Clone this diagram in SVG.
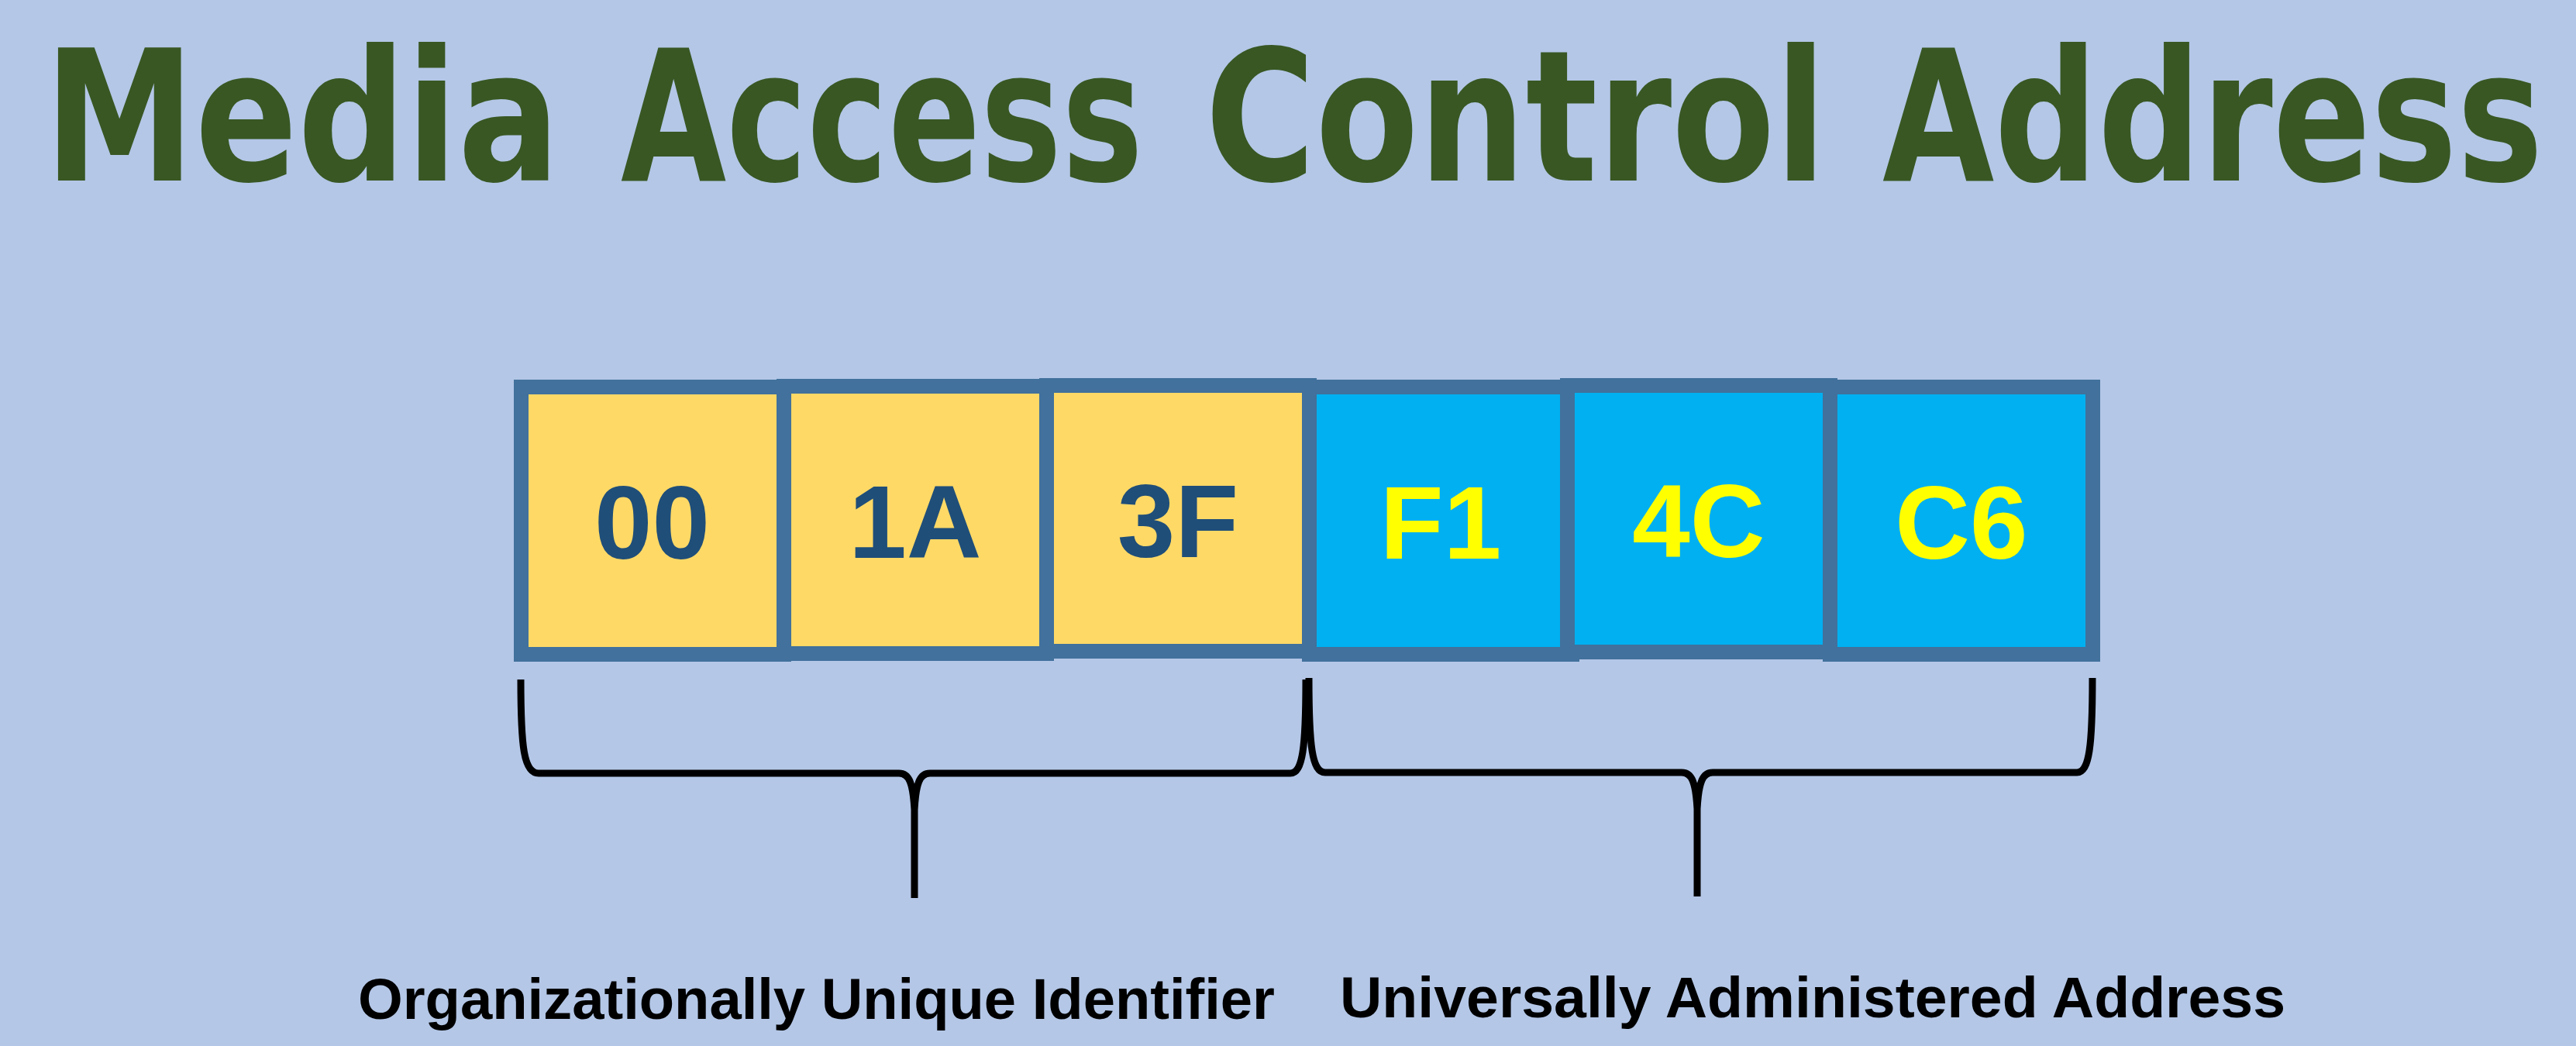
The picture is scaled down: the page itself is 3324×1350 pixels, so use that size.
<svg xmlns="http://www.w3.org/2000/svg" width="3324" height="1350" viewBox="0 0 3324 1350">
  <style>
    .title { font-family: "DejaVu Sans", "Liberation Sans", sans-serif; font-weight: bold; font-size: 236px; fill: #385723; }
    .cell { stroke: #41719C; stroke-width: 19; }
    .oui { fill: #FFD966; }
    .uaa { fill: #00B0F0; }
    .val { font-family: "Liberation Sans", Arial, sans-serif; font-weight: bold; font-size: 134px; text-anchor: middle; }
    .val-oui { fill: #1F4E79; }
    .val-uaa { fill: #FFFF00; }
    .brace { fill: none; stroke: #000000; stroke-width: 9; stroke-linejoin: round; }
    .label { font-family: "Liberation Sans", Arial, sans-serif; font-weight: bold; font-size: 74px; fill: #000000; }
  </style>
  <rect x="0" y="0" width="3324" height="1350" fill="#B4C7E7"/>

  <g id="title">
    <text class="title" transform="translate(57 233) scale(0.828 1)">Media</text>
    <text class="title" transform="translate(801 233) scale(0.746 1)">Access</text>
    <text class="title" transform="translate(1555 233) scale(0.822 1)">Control</text>
    <text class="title" transform="translate(2429 233) scale(0.791 1)">Address</text>
  </g>

  <g id="octet-1">
    <rect class="cell oui" x="672.5" y="499.5" width="339" height="345"/>
    <text class="val val-oui" x="841.5" y="721">00</text>
  </g>
  <g id="octet-2">
    <rect class="cell oui" x="1011.5" y="498.5" width="339" height="345"/>
    <text class="val val-oui" x="1181" y="720">1A</text>
  </g>
  <g id="octet-4">
    <rect class="cell uaa" x="1689.5" y="499.5" width="339" height="345"/>
    <text class="val val-uaa" x="1859" y="721">F1</text>
  </g>
  <g id="octet-3">
    <rect class="cell oui" x="1350.5" y="497.5" width="339" height="343"/>
    <text class="val val-oui" x="1520" y="719">3F</text>
  </g>
  <g id="octet-6">
    <rect class="cell uaa" x="2361.5" y="499.5" width="339" height="345"/>
    <text class="val val-uaa" x="2531" y="721">C6</text>
  </g>
  <g id="octet-5">
    <rect class="cell uaa" x="2022.5" y="497.5" width="339" height="344"/>
    <text class="val val-uaa" x="2192" y="719">4C</text>
  </g>

  <g id="connectors">
    <path class="brace" d="M672 877 C672 965 676 998 695 998 L1160 998 C1173 998 1178 1010 1180 1045 C1182 1010 1187 998 1200 998 L1665 998 C1681 998 1685 965 1685 877 M1180 1045 L1180 1159"/>
    <path class="brace" d="M1689 875 C1689 963 1693 997 1710 997 L2170 997 C2183 997 2188 1009 2190 1044 C2192 1009 2197 997 2210 997 L2680 997 C2696 997 2700 963 2700 875 M2190 1044 L2190 1157"/>
  </g>

  <g id="labels">
    <text class="label" x="462" y="1315" textLength="1183" lengthAdjust="spacingAndGlyphs">Organizationally Unique Identifier</text>
    <text class="label" x="1729" y="1313" textLength="1220" lengthAdjust="spacingAndGlyphs">Universally Administered Address</text>
  </g>
</svg>
